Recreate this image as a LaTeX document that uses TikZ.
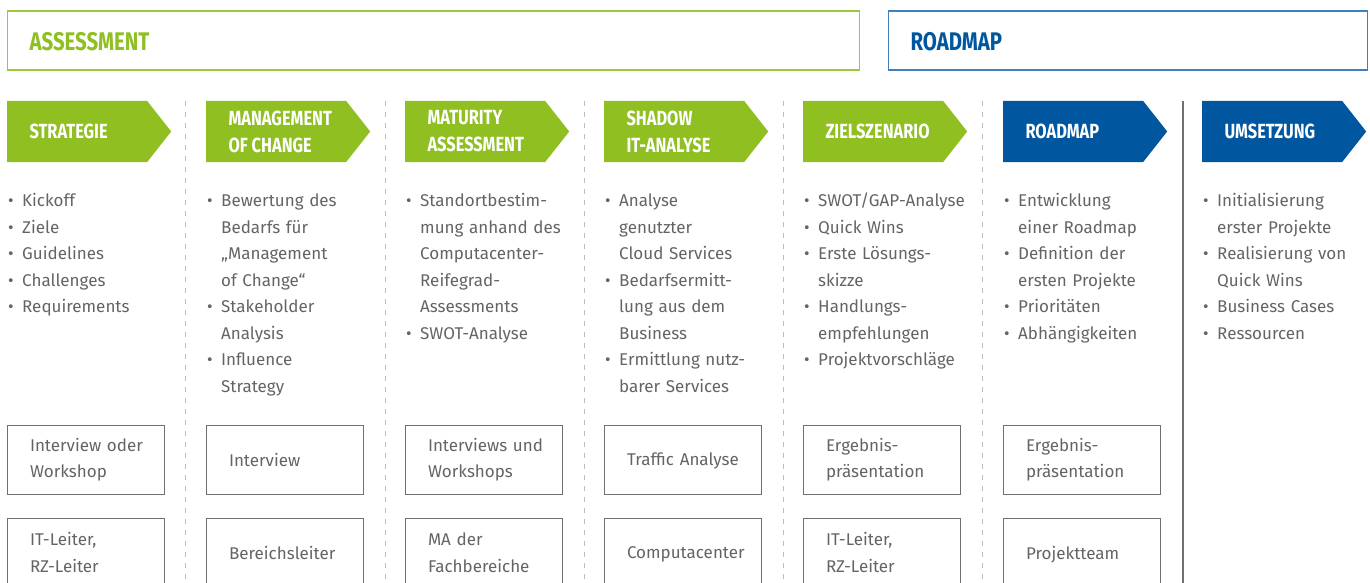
\documentclass[tikz,border=0pt]{standalone}
\usepackage{fontspec}
\setmainfont{Fira Sans}
\newfontfamily\headfont[FakeStretch=0.8]{Fira Sans}
\usetikzlibrary{shapes.symbols}

\definecolor{ccgreen}{HTML}{8FBF21}
\definecolor{ccgreenline}{HTML}{9CC83C}
\definecolor{ccblue}{HTML}{0057A0}
\definecolor{ccblueline}{HTML}{3F7FBF}
\definecolor{cctext}{HTML}{646464}
\definecolor{ccbox}{HTML}{707070}
\definecolor{ccsep}{HTML}{BDBDBD}

% bullet item, continuation lines hang under the text
\newcommand{\bitem}[1]{\par\hangindent=15pt\hangafter=1\noindent
  \makebox[15pt][l]{\hspace{1pt}\textbullet}{\let\\\newline#1}\par}

\begin{document}
\begin{tikzpicture}
  [
    x=1pt, y=-1pt,
    topbox/.style =
      {draw=#1, line width=1.4pt, anchor=west, minimum height=59pt, inner sep=0pt},
    toptxt/.style =
      {anchor=west, xshift=19pt, yshift=-1pt, text=#1, font=\headfont\bfseries\fontsize{25.5}{27}\selectfont},
    stage/.style =
      {signal, signal to=east, signal pointer angle=103.6, fill=#1, anchor=west,
       minimum width=164pt, minimum height=61pt, inner sep=0pt},
    stagetxt/.style =
      {anchor=west, xshift=19pt, align=left, text=white,
       font=\headfont\bfseries\fontsize{20.5}{27}\selectfont},
    items/.style =
      {anchor=north west, inner sep=0pt, text width=180pt, align=left, text=cctext,
       font=\fontsize{17}{26.5}\selectfont},
    resbox/.style =
      {draw=ccbox, line width=1pt, minimum width=157pt, minimum height=69pt,
       text width=111pt, inner xsep=23pt, align=left, text=cctext,
       font=\fontsize{17}{26.5}\selectfont},
    oneline/.style =
      {text depth=0pt},
    sep/.style =
      {draw=ccsep, line width=1pt, dash pattern=on 5pt off 6pt}
  ]
  \useasboundingbox (0,0) rectangle (1370,583);

  % phases
  \node [topbox=ccgreenline, minimum width=852pt, label={[toptxt=ccgreen]west:ASSESSMENT}] (assess) at (7,40.5) {};
  \node [topbox=ccblueline, minimum width=479pt, label={[toptxt=ccblue]west:ROADMAP}] (road) at (888,40.5) {};

  % separators
  \draw [sep] (185,101) -- (185,583);
  \draw [sep] (385,101) -- (385,583);
  \draw [sep] (584,101) -- (584,583);
  \draw [sep] (783,101) -- (783,583);
  \draw [sep] (982,101) -- (982,583);
  \draw [draw=ccbox, line width=1.2pt] (1183,101) -- (1183,583);

  % steps
  \node [stage=ccgreen, label={[stagetxt]west:STRATEGIE}] (s1) at (7,131.5) {};
  \node [stage=ccgreen, label={[stagetxt]west:{MANAGEMENT\\OF CHANGE}}] (s2) at (206,131.5) {};
  \node [stage=ccgreen, label={[stagetxt]west:{MATURITY\\ASSESSMENT}}] (s3) at (405,131.5) {};
  \node [stage=ccgreen, label={[stagetxt]west:{SHADOW\\IT-ANALYSE}}] (s4) at (604,131.5) {};
  \node [stage=ccgreen, label={[stagetxt]west:ZIELSZENARIO}] (s5) at (803,131.5) {};
  \node [stage=ccblue, label={[stagetxt]west:ROADMAP}] (s6) at (1003,131.5) {};
  \node [stage=ccblue, label={[stagetxt]west:UMSETZUNG}] (s7) at (1202,131.5) {};

  % contents
  \node [items] (l1) at (7,180) {\bitem{Kickoff}\bitem{Ziele}\bitem{Guidelines}\bitem{Challenges}\bitem{Requirements}};
  \node [items] (l2) at (206,180) {\bitem{Bewertung des\\Bedarfs für\\„Management\\of Change“}\bitem{Stakeholder\\Analysis}\bitem{Influence\\Strategy}};
  \node [items] (l3) at (405,180) {\bitem{Standortbestim-\\mung anhand des\\Computacenter-\\Reifegrad-\\Assessments}\bitem{SWOT-Analyse}};
  \node [items] (l4) at (604,180) {\bitem{Analyse\\genutzter\\Cloud Services}\bitem{Bedarfsermitt-\\lung aus dem\\Business}\bitem{Ermittlung nutz-\\barer Services}};
  \node [items] (l5) at (803,180) {\bitem{SWOT/GAP-Analyse}\bitem{Quick Wins}\bitem{Erste Lösungs-\\skizze}\bitem{Handlungs-\\empfehlungen}\bitem{Projektvorschläge}};
  \node [items] (l6) at (1003,180) {\bitem{Entwicklung\\einer Roadmap}\bitem{Definition der\\ersten Projekte}\bitem{Prioritäten}\bitem{Abhängigkeiten}};
  \node [items] (l7) at (1202,180) {\bitem{Initialisierung\\erster Projekte}\bitem{Realisierung von\\Quick Wins}\bitem{Business Cases}\bitem{Ressourcen}};

  % methods
  \node [resbox] (m1) at (85.5,459.5) {\mbox{Interview oder}\\Workshop};
  \node [resbox, oneline] (m2) at (284.5,459.5) {Interview};
  \node [resbox] (m3) at (483.5,459.5) {\mbox{Interviews und}\\Workshops};
  \node [resbox, oneline] (m4) at (682.5,459.5) {\mbox{Traffic Analyse}};
  \node [resbox] (m5) at (881.5,459.5) {Ergebnis-\\präsentation};
  \node [resbox] (m6) at (1081.5,459.5) {Ergebnis-\\präsentation};

  % participants
  \node [resbox] (p1) at (85.5,552.5) {IT-Leiter,\\RZ-Leiter};
  \node [resbox, oneline] (p2) at (284.5,552.5) {Bereichsleiter};
  \node [resbox] (p3) at (483.5,552.5) {MA der\\Fachbereiche};
  \node [resbox, oneline] (p4) at (682.5,552.5) {Computacenter};
  \node [resbox] (p5) at (881.5,552.5) {IT-Leiter,\\RZ-Leiter};
  \node [resbox, oneline] (p6) at (1081.5,552.5) {Projektteam};
\end{tikzpicture}
\end{document}
